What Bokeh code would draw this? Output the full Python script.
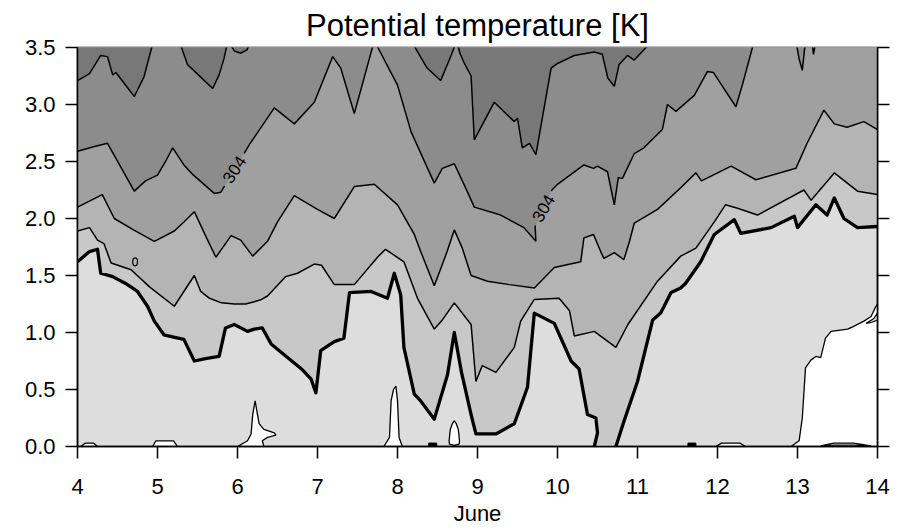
import math
from bokeh.plotting import figure
from bokeh.models import Range1d, LinearAxis, FixedTicker, PrintfTickFormatter, CustomJSTickFormatter
from bokeh.core.properties import value
from bokeh.embed import file_html
from bokeh.resources import INLINE

# ---------------- data ----------------
# day of June (x) and height in km (y) of each isentrope; values >= 3.56 mean "above the chart",
# values < 0 mean "below the ground"
x_ticks = [4, 5, 6, 7, 8, 9, 10, 11, 12, 13, 14]
y_ticks = [0.0, 0.5, 1.0, 1.5, 2.0, 2.5, 3.0, 3.5]

# thick contour
L1_x = [4.0, 4.15, 4.25, 4.29, 4.44, 4.6, 4.75, 4.875, 4.96, 5.08, 5.2, 5.33, 5.46, 5.6, 5.77, 5.85, 5.96, 6.125, 6.21, 6.31,
        6.42, 6.625, 6.8, 6.92, 6.98, 7.04, 7.21, 7.33, 7.4, 7.67, 7.875, 7.96, 8.04, 8.08, 8.21, 8.29, 8.46, 8.625, 8.71, 8.8,
        8.92, 8.98, 9.23, 9.46, 9.625, 9.71, 9.96, 10.17, 10.27, 10.375, 10.48, 10.5, 10.46, 10.45, 10.72, 10.73, 10.83, 11.0, 11.19, 11.29,
        11.42, 11.54, 11.6, 11.79, 11.96, 12.21, 12.29, 12.67, 12.96, 13.0, 13.23, 13.37, 13.46, 13.58, 13.75, 14.0]
L1_y = [1.62, 1.71, 1.73, 1.52, 1.49, 1.43, 1.36, 1.23, 1.10, 0.98, 0.96, 0.94, 0.75, 0.77, 0.79, 1.04, 1.07, 1.01, 1.03, 1.04,
        0.90, 0.78, 0.68, 0.59, 0.47, 0.84, 0.92, 0.95, 1.35, 1.36, 1.30, 1.52, 1.33, 0.87, 0.46, 0.40, 0.24, 0.63, 1.0, 0.65,
        0.28, 0.11, 0.11, 0.2, 0.52, 1.17, 1.08, 0.75, 0.68, 0.28, 0.25, 0.12, 0.0, -0.05, -0.05, 0.0, 0.22, 0.57, 1.11, 1.17,
        1.35, 1.39, 1.43, 1.62, 1.86, 1.99, 1.87, 1.92, 2.02, 1.92, 2.12, 2.03, 2.18, 2.0, 1.92, 1.93]

L2_x = [4.0, 4.15, 4.25, 4.33, 4.42, 4.67, 4.9, 5.21, 5.46, 5.54, 5.65, 5.8, 5.96, 6.1, 6.21, 6.3, 6.375, 6.6, 6.75, 6.96,
        7.05, 7.21, 7.46, 7.75, 7.85, 8.08, 8.25, 8.46, 8.55, 8.71, 8.92, 8.98, 9.06, 9.23, 9.46, 9.54, 9.71, 10.02, 10.15, 10.21,
        10.46, 10.73, 10.88, 11.25, 11.54, 11.73, 11.96, 12.1, 12.25, 12.5, 13.08, 13.17, 13.46, 13.75, 14.0]
L2_y = [1.89, 1.92, 1.81, 1.78, 1.61, 1.55, 1.40, 1.23, 1.50, 1.36, 1.30, 1.26, 1.25, 1.25, 1.27, 1.29, 1.32, 1.49, 1.52, 1.60,
        1.59, 1.42, 1.42, 1.66, 1.73, 1.62, 1.30, 1.03, 1.10, 1.26, 1.07, 0.57, 0.71, 0.65, 0.87, 1.10, 1.29, 1.30, 1.19, 0.97,
        1.01, 0.87, 1.07, 1.45, 1.67, 1.74, 1.97, 2.12, 2.09, 2.03, 2.25, 2.16, 2.40, 2.24, 2.21]

L3_x = [4.0, 4.31, 4.46, 4.7, 4.96, 5.21, 5.33, 5.46, 5.6, 5.73, 5.92, 6.04, 6.19, 6.375, 6.5, 6.71, 7.0, 7.21, 7.46, 7.71,
        8.0, 8.21, 8.29, 8.46, 8.62, 8.71, 8.81, 8.92, 9.125, 9.4, 9.71, 9.96, 10.29, 10.33, 10.45, 10.54, 10.58, 10.71, 10.83, 10.9,
        10.96, 11.25, 11.54, 11.73, 11.8, 12.17, 12.48, 12.98, 13.12, 13.33, 13.46, 13.62, 13.83, 14.0]
L3_y = [2.10, 2.21, 2.00, 1.90, 1.80, 1.89, 1.97, 2.06, 1.85, 1.66, 1.85, 1.81, 1.67, 1.80, 1.97, 2.20, 2.08, 2.00, 2.28, 2.30,
        2.12, 1.86, 1.71, 1.41, 1.71, 1.90, 1.74, 1.50, 1.45, 1.42, 1.39, 1.57, 1.62, 1.83, 1.86, 1.71, 1.65, 1.70, 1.64, 1.80,
        1.96, 2.08, 2.27, 2.40, 2.33, 2.46, 2.34, 2.44, 2.66, 2.95, 2.83, 2.80, 2.85, 2.78]

# the labelled 304 K contour
L4_x = [4.0, 4.1, 4.2, 4.375, 4.71, 4.85, 5.0, 5.1, 5.19, 5.33, 5.45, 5.71, 5.79, 6.15, 6.46, 6.71, 6.96, 7.19, 7.29, 7.46,
        7.71, 8.0, 8.17, 8.46, 8.56, 8.71, 8.87, 8.96, 9.29, 9.58, 9.73, 9.72, 9.93, 10.0, 10.33, 10.45, 10.5, 10.625, 10.71, 10.76,
        10.81, 10.96, 11.08, 11.31, 11.375, 11.48, 11.71, 11.875, 11.95, 12.23, 12.31, 12.46, 12.98, 13.02, 13.06, 13.1, 13.18, 13.2, 13.23, 14.0]
L4_y = [2.59, 2.61, 2.63, 2.66, 2.24, 2.33, 2.38, 2.50, 2.62, 2.47, 2.38, 2.22, 2.23, 2.65, 2.97, 2.83, 3.02, 3.42, 3.32, 2.92,
        3.56, 3.17, 2.76, 2.31, 2.44, 2.48, 2.24, 2.10, 2.03, 1.92, 1.80, 1.93, 2.25, 2.30, 2.47, 2.44, 2.46, 2.41, 2.12, 2.36,
        2.35, 2.57, 2.62, 2.78, 3.00, 2.94, 3.08, 3.29, 3.28, 2.98, 3.17, 3.56, 3.56, 3.40, 3.30, 3.56, 3.56, 3.44, 3.56, 3.56]

L5_x = [4.0, 4.15, 4.29, 4.375, 4.44, 4.48, 4.71, 4.83, 4.95, 5.27, 5.375, 5.45, 5.54, 5.69, 5.77, 5.83, 5.88, 5.96, 6.04, 6.12,
        6.17, 8.17, 8.37, 8.54, 8.67, 8.74, 8.78, 8.83, 8.92, 8.96, 9.21, 9.46, 9.5, 9.56, 9.65, 9.73, 9.92, 10.0, 10.21, 10.46,
        10.56, 10.63, 10.71, 10.77, 10.875, 10.96, 11.08, 11.19, 14.0]
L5_y = [3.21, 3.27, 3.43, 3.42, 3.26, 3.28, 3.07, 3.24, 3.56, 3.56, 3.35, 3.30, 3.24, 3.14, 3.26, 3.40, 3.56, 3.47, 3.45, 3.48,
        3.56, 3.56, 3.32, 3.21, 3.43, 3.56, 3.45, 3.37, 3.25, 2.69, 3.02, 2.85, 2.88, 2.62, 2.66, 2.56, 3.32, 3.36, 3.43, 3.46,
        3.44, 3.23, 3.16, 3.35, 3.43, 3.39, 3.48, 3.56, 3.56]

# coldest air (white) pockets near the ground, closed outlines
cold1_x = [6.0, 6.125, 6.17, 6.19, 6.21, 6.22, 6.23, 6.25, 6.27, 6.33, 6.46, 6.48, 6.375, 6.31, 6.33]
cold1_y = [0.0, 0.05, 0.11, 0.28, 0.36, 0.40, 0.36, 0.28, 0.20, 0.15, 0.12, 0.10, 0.08, 0.05, 0.0]
cold2_x = [7.83, 7.9, 7.92, 7.95, 7.98, 8.0, 8.02, 8.06]
cold2_y = [0.0, 0.08, 0.40, 0.50, 0.53, 0.40, 0.08, 0.0]
cold3_x = [8.645, 8.66, 8.685, 8.71, 8.735, 8.76, 8.775, 8.77, 8.71, 8.65]
cold3_y = [0.05, 0.15, 0.20, 0.225, 0.20, 0.15, 0.05, 0.02, 0.01, 0.02]
cold4_x = [12.92, 13.02, 13.06, 13.1, 13.17, 13.23, 13.29, 13.35, 13.42, 13.625, 13.69, 13.83, 13.92, 13.98, 14.0, 14.0]
cold4_y = [0.0, 0.05, 0.25, 0.69, 0.76, 0.79, 0.78, 0.95, 1.01, 1.03, 1.05, 1.10, 1.14, 1.23, 1.25, 0.0]
cold5_x = [4.04, 4.1, 4.2, 4.25]
cold5_y = [0.0, 0.03, 0.03, 0.0]
cold6_x = [4.94, 4.98, 5.2, 5.25]
cold6_y = [0.0, 0.05, 0.05, 0.0]
cold7_x = [11.98, 12.05, 12.28, 12.35]
cold7_y = [0.0, 0.03, 0.03, 0.0]
lens_x = [13.29, 13.45, 13.7, 13.92, 13.7, 13.45, 13.29]
lens_y = [0.005, 0.03, 0.03, 0.005, 0.012, 0.012, 0.005]
sliver_x = [13.86, 13.95, 14.0, 14.0, 13.93, 13.86]
sliver_y = [1.08, 1.12, 1.17, 1.11, 1.09, 1.08]

# tiny closed contours
loop_x = [4.72]
loop_y = [1.62]
blob_x = [8.44, 11.68]
blob_y = [0.015, 0.015]

# contour labels
label_x = [5.96, 9.825]
label_y = [2.43, 2.09]
label_text = ["304", "304"]
label_angle_deg = [57, 60]

band_colors = ["#dddddd", "#c8c8c8", "#b4b4b4", "#a0a0a0", "#8c8c8c", "#787878"]

# ---------------- figure ----------------
FONT = "Liberation Sans"
p = figure(width=898, height=530, x_range=Range1d(4, 14), y_range=Range1d(0, 3.5),
           output_backend="svg", toolbar_location=None,
           min_border_left=77, min_border_right=21, min_border_top=46, min_border_bottom=84)
p.background_fill_color = band_colors[0]
p.border_fill_color = "white"
p.outline_line_color = "black"
p.outline_line_width = 1.5
p.xgrid.visible = False
p.ygrid.visible = False

p.title.text = "Potential temperature [K]"
p.title.align = "center"
p.title.text_font = FONT
p.title.text_font_size = "31px"
p.title.text_font_style = "normal"
p.title.text_color = "black"
p.title.text_line_height = 1.0
p.title.standoff = 10

# filled bands: each level is filled from its contour upward
levels = [(L1_x, L1_y), (L2_x, L2_y), (L3_x, L3_y), (L4_x, L4_y), (L5_x, L5_y)]
ABOVE = 3.8
for (lx, ly), col in zip(levels, band_colors[1:]):
    p.patch(list(lx) + [lx[-1], lx[0]], list(ly) + [ABOVE, ABOVE],
            fill_color=col, line_color=None)

# white (coldest) pockets
for cx, cy in [(cold1_x, cold1_y), (cold2_x, cold2_y), (cold3_x, cold3_y), (cold4_x, cold4_y),
               (cold5_x, cold5_y), (cold6_x, cold6_y), (cold7_x, cold7_y)]:
    p.patch(cx, cy, fill_color="white", line_color="black", line_width=1.3)
p.patch(sliver_x, sliver_y, fill_color=band_colors[0], line_color="black", line_width=1.2)
p.line(lens_x, lens_y, line_color="black", line_width=1.2)

# label gaps on the 304 contour
PXX = 800 / 10.0
PXY = 400 / 3.5
def gap_line(xs, ys, centers, r):
    def inside(x, y):
        return any(((x - cx) * PXX) ** 2 + ((y - cy) * PXY) ** 2 < r * r for cx, cy in centers)
    ox, oy = [], []
    if not inside(xs[0], ys[0]):
        ox.append(xs[0]); oy.append(ys[0])
    for i in range(len(xs) - 1):
        x0, y0, x1, y1 = xs[i], ys[i], xs[i + 1], ys[i + 1]
        cuts = []
        for cx, cy in centers:
            ax, ay = (x0 - cx) * PXX, (y0 - cy) * PXY
            dx, dy = (x1 - x0) * PXX, (y1 - y0) * PXY
            a = dx * dx + dy * dy
            b = 2 * (ax * dx + ay * dy)
            c = ax * ax + ay * ay - r * r
            disc = b * b - 4 * a * c
            if a > 0 and disc > 0:
                s = math.sqrt(disc)
                for t in ((-b - s) / (2 * a), (-b + s) / (2 * a)):
                    if 0 < t < 1:
                        cuts.append(t)
        for t in sorted(cuts):
            xm, ym = x0 + t * (x1 - x0), y0 + t * (y1 - y0)
            te = t + 1e-6
            ox.append(xm); oy.append(ym)
            if inside(x0 + te * (x1 - x0), y0 + te * (y1 - y0)):
                ox.append(float("nan")); oy.append(float("nan"))
        if not inside(x1, y1):
            ox.append(x1); oy.append(y1)
    return ox, oy

thin = 1.5
p.line(L2_x, L2_y, line_color="black", line_width=thin)
p.line(L3_x, L3_y, line_color="black", line_width=thin)
g4x, g4y = gap_line(L4_x, L4_y, list(zip(label_x, label_y)), 19)
p.line(g4x, g4y, line_color="black", line_width=thin)
p.line(L5_x, L5_y, line_color="black", line_width=thin)
p.line(L1_x, L1_y, line_color="black", line_width=3.3, line_join="round")

p.ellipse(loop_x, loop_y, width=0.06, height=0.07, fill_color=None, line_color="black", line_width=1.2)
p.rect(blob_x, blob_y, width=0.1, height=0.03, fill_color="black", line_color="black")

p.text(label_x, label_y, text=label_text, angle=[a * math.pi / 180 for a in label_angle_deg],
       text_align="center", text_baseline="middle", text_font=value(FONT),
       text_font_size=value("17px"), text_color="black")

# axes
def style_axis(ax):
    ax.axis_line_width = 1.5
    ax.major_tick_line_width = 1.5
    ax.major_tick_out = 12
    ax.major_tick_in = 0
    ax.minor_tick_line_color = None
    ax.major_label_text_font = FONT
    ax.major_label_text_font_size = "22px"
    ax.major_label_text_color = "black"

xa = p.xaxis[0]
xa.ticker = FixedTicker(ticks=x_ticks)
style_axis(xa)
xa.major_label_standoff = 20
xa.axis_label = "June"
xa.axis_label_text_font = FONT
xa.axis_label_text_font_size = "22px"
xa.axis_label_text_font_style = "normal"
xa.axis_label_text_color = "black"
xa.axis_label_standoff = 4

ya = p.yaxis[0]
ya.ticker = FixedTicker(ticks=y_ticks)
ya.formatter = PrintfTickFormatter(format="%.1f")
style_axis(ya)
ya.major_label_standoff = 10

ra = LinearAxis(ticker=FixedTicker(ticks=y_ticks))
style_axis(ra)
ra.formatter = CustomJSTickFormatter(code="return ''")
ra.major_label_standoff = 0
p.add_layout(ra, "right")

open("out.html", "w").write(file_html(p, INLINE))
